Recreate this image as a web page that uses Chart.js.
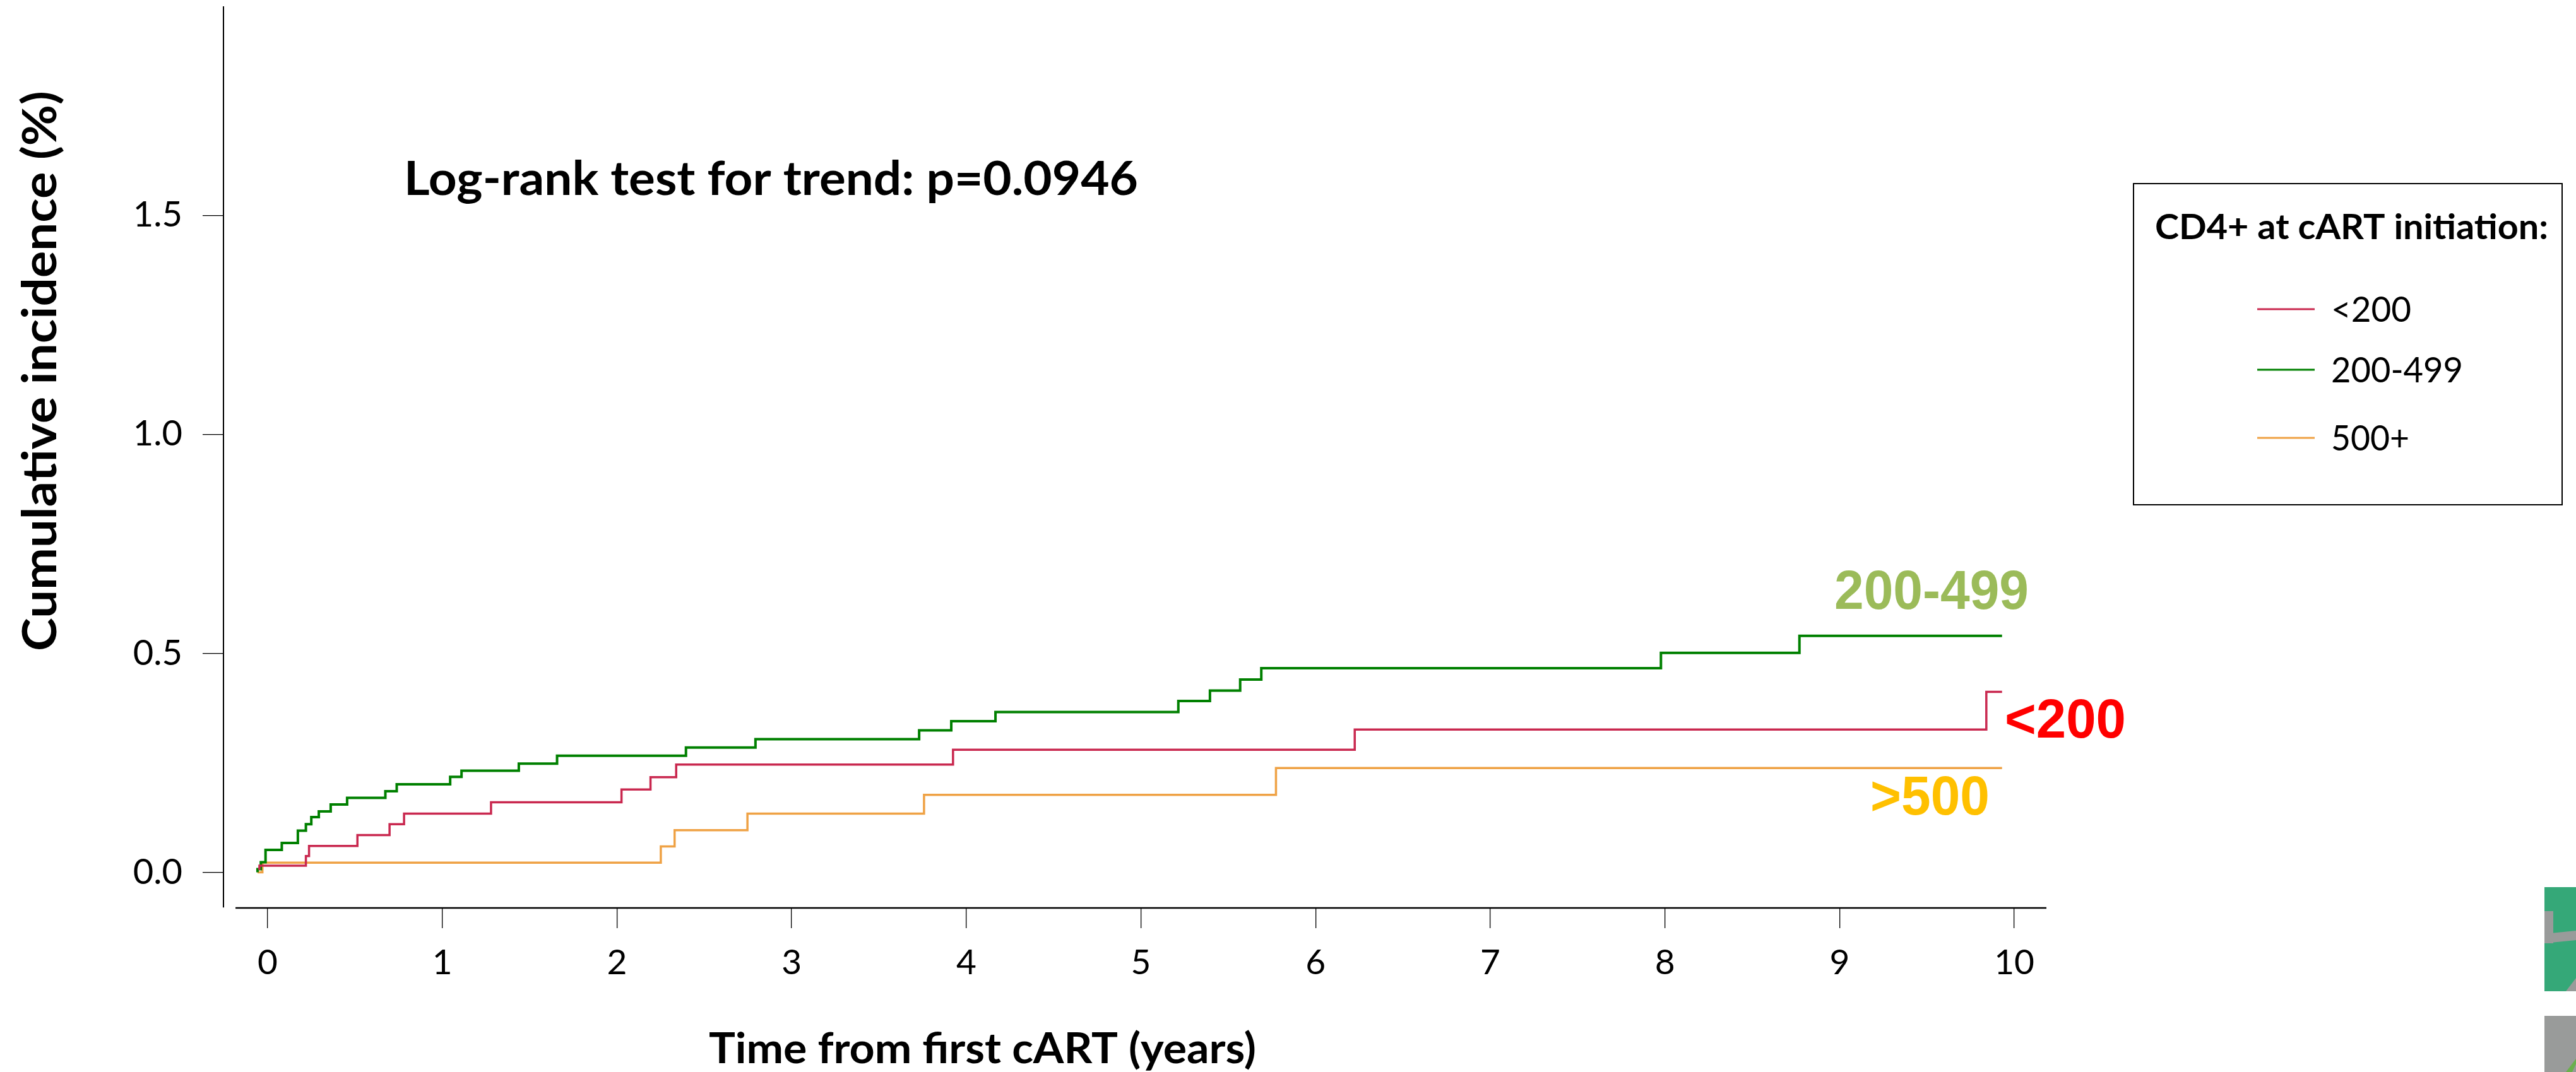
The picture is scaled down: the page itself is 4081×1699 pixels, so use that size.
<!DOCTYPE html>
<html><head><meta charset="utf-8">
<script src="https://cdn.jsdelivr.net/npm/chart.js@4.4.1/dist/chart.umd.min.js"></script>
<style>html,body{margin:0;padding:0;background:#fff;} #wrap{position:relative;width:4081px;height:1699px;}</style>
</head><body><div id="wrap"><canvas id="c" width="4081" height="1699"></canvas></div>
<script>
// ---- data ----
const seriesLabels = ['<200', '200-499', '500+'];
const seriesColors = ['#C9284F', '#008000', '#EFA245'];
const endLabels = ['<200', '200-499', '>500'];
const endLabelColors = ['#FF0000', '#9BBB59', '#FFC000'];

const lowTimes  = [-0.054, -0.047, 0.219, 0.237, 0.514, 0.698, 0.781, 1.279, 2.026, 2.192, 2.339, 3.924, 6.224, 9.84, 9.93];
const lowValues = [0.008, 0.015, 0.037, 0.060, 0.085, 0.110, 0.134, 0.160, 0.189, 0.217, 0.246, 0.280, 0.326, 0.412, 0.412];

const midTimes  = [-0.058, -0.058, -0.039, -0.012, 0.081, 0.173, 0.219, 0.250, 0.293, 0.361, 0.455, 0.674, 0.739, 1.045, 1.110, 1.438, 1.657, 2.395, 2.793, 3.730, 3.914, 4.167, 5.214, 5.395, 5.568, 5.689, 7.977, 8.77, 9.93];
const midValues = [0, 0.007, 0.023, 0.051, 0.067, 0.095, 0.110, 0.126, 0.139, 0.155, 0.170, 0.185, 0.201, 0.218, 0.232, 0.248, 0.266, 0.285, 0.304, 0.324, 0.345, 0.366, 0.391, 0.415, 0.440, 0.466, 0.501, 0.540, 0.540];

const highTimes  = [-0.058, -0.030, 2.251, 2.330, 2.747, 3.758, 5.773, 9.93];
const highValues = [0, 0.022, 0.059, 0.096, 0.134, 0.177, 0.238, 0.238];

const xTickValues = [0, 1, 2, 3, 4, 5, 6, 7, 8, 9, 10];
const yTickValues = [0, 0.5, 1.0, 1.5];

const titleText = 'Log-rank test for trend: p=0.0946';
const xTitleText = 'Time from first cART (years)';
const yTitleText = 'Cumulative incidence (%)';
const legendTitleText = 'CD4+ at cART initiation:';

// ---- helpers ----
const toPts = (ts, vs) => ts.map((t, i) => ({x: t, y: vs[i]}));
const CALIBRI = 'Lato';
const ARIAL = '"Liberation Sans"';

function fitText(ctx, o) {
  ctx.save();
  const size = o.cap / 0.716;
  ctx.font = `${o.weight || 'normal'} ${size}px ${o.family}`;
  const w = ctx.measureText(o.text).width;
  const sx = o.width ? o.width / w : 1;
  ctx.translate(o.x, o.y);
  if (o.rotate) ctx.rotate(o.rotate);
  ctx.scale(sx, 1);
  ctx.fillStyle = o.color || '#000';
  ctx.textBaseline = 'alphabetic';
  ctx.textAlign = 'left';
  ctx.fillText(o.text, 0, 0);
  ctx.restore();
}

const decor = {
  id: 'decor',
  afterDraw(chart) {
    const ctx = chart.ctx;
    const xs = chart.scales.x, area = chart.chartArea;
    // x axis line (separate from y axis, R style)
    ctx.save();
    ctx.strokeStyle = '#000'; ctx.lineWidth = 2.5;
    ctx.beginPath();
    ctx.moveTo(xs.getPixelForValue(-0.184), area.bottom + 1);
    ctx.lineTo(area.right, area.bottom + 1);
    ctx.stroke();
    ctx.restore();

    // annotation text
    fitText(ctx, {text: titleText, family: CALIBRI, weight: 'bold', cap: 54, x: 640, y: 309, width: 1163});
    fitText(ctx, {text: xTitleText, family: CALIBRI, weight: 'bold', cap: 48, x: 1123, y: 1685, width: 867});
    fitText(ctx, {text: yTitleText, family: CALIBRI, weight: 'bold', cap: 54, x: 89, y: 1032, width: 888, rotate: -Math.PI / 2});

    // legend box
    ctx.save();
    ctx.strokeStyle = '#000'; ctx.lineWidth = 2;
    ctx.strokeRect(3380, 291, 679, 509);
    ctx.restore();
    fitText(ctx, {text: legendTitleText, family: CALIBRI, weight: 'bold', cap: 40, x: 3414, y: 379, width: 623});
    const legY = [490, 586, 694];
    const legW = [127, 209, 124];
    chart.data.datasets.forEach((ds, i) => {
      ctx.save();
      ctx.strokeStyle = ds.borderColor; ctx.lineWidth = 3;
      ctx.beginPath(); ctx.moveTo(3576, legY[i]); ctx.lineTo(3667, legY[i]); ctx.stroke();
      ctx.restore();
      fitText(ctx, {text: ds.label, family: CALIBRI, cap: 40, x: 3693, y: legY[i] + 20, width: legW[i]});
    });

    // end-of-curve labels
    const endPos = [[3176, 1169, 192], [2906, 965, 308], [2963, 1291, 189]];
    endLabels.forEach((t, i) => {
      fitText(ctx, {text: t, family: ARIAL, weight: 'bold', cap: 62, x: endPos[i][0], y: endPos[i][1], width: endPos[i][2], color: endLabelColors[i]});
    });

    // cropped decoration at bottom-right edge
    ctx.save();
    ctx.fillStyle = '#35A878'; ctx.fillRect(4031, 1406, 50, 165);
    ctx.fillStyle = '#999B9A';
    ctx.fillRect(4031, 1444, 14, 51);
    ctx.beginPath(); ctx.moveTo(4031, 1480); ctx.lineTo(4081, 1475); ctx.lineTo(4081, 1490); ctx.lineTo(4031, 1495); ctx.closePath(); ctx.fill();
    ctx.beginPath(); ctx.moveTo(4065, 1571); ctx.lineTo(4081, 1550); ctx.lineTo(4081, 1571); ctx.closePath(); ctx.fill();
    ctx.fillRect(4031, 1610, 50, 89);
    ctx.fillStyle = '#6AB04C';
    ctx.beginPath(); ctx.moveTo(4065, 1699); ctx.lineTo(4081, 1678); ctx.lineTo(4081, 1686); ctx.lineTo(4075, 1699); ctx.closePath(); ctx.fill();
    ctx.restore();
  }
};

const mk = (label, color, ts, vs, w) => ({
  label, data: toPts(ts, vs), borderColor: color, backgroundColor: color,
  borderWidth: w, pointRadius: 0, stepped: 'before', fill: false, tension: 0
});

new Chart(document.getElementById('c'), {
  type: 'line',
  data: {
    datasets: [
      mk(seriesLabels[0], seriesColors[0], lowTimes, lowValues, 3.5),
      mk(seriesLabels[1], seriesColors[1], midTimes, midValues, 4),
      mk(seriesLabels[2], seriesColors[2], highTimes, highValues, 3.5)
    ]
  },
  options: {
    responsive: false, animation: false, devicePixelRatio: 1,
    layout: {padding: {left: 0, top: 11, right: 839, bottom: 0}},
    plugins: {legend: {display: false}, tooltip: {enabled: false}, title: {display: false}},
    scales: {
      x: {
        type: 'linear', min: -0.253, max: 10.184, position: 'bottom',
        afterFit: s => { s.height = 261; s.paddingLeft = 0; s.paddingRight = 0; },
        afterBuildTicks: s => { s.ticks = xTickValues.map(v => ({value: v})); },
        ticks: {font: {family: CALIBRI, size: 55}, color: '#000', padding: 22, maxRotation: 0, autoSkip: false,
                callback: v => String(v)},
        grid: {display: true, drawOnChartArea: false, drawTicks: true, tickLength: 33, color: '#000', lineWidth: 1.3},
        border: {display: false}
      },
      y: {
        type: 'linear', min: -0.08, max: 1.976,
        afterFit: s => { s.width = 354; s.paddingTop = 0; s.paddingBottom = 0; },
        afterBuildTicks: s => { s.ticks = yTickValues.map(v => ({value: v})); },
        ticks: {font: {family: CALIBRI, size: 56}, color: '#000', padding: 32, autoSkip: false,
                callback: v => Number(v).toFixed(1)},
        grid: {display: true, drawOnChartArea: false, drawTicks: true, tickLength: 33, color: '#000', lineWidth: 1.3},
        border: {display: true, color: '#000', width: 2}
      }
    }
  },
  plugins: [decor]
});
</script></body></html>
